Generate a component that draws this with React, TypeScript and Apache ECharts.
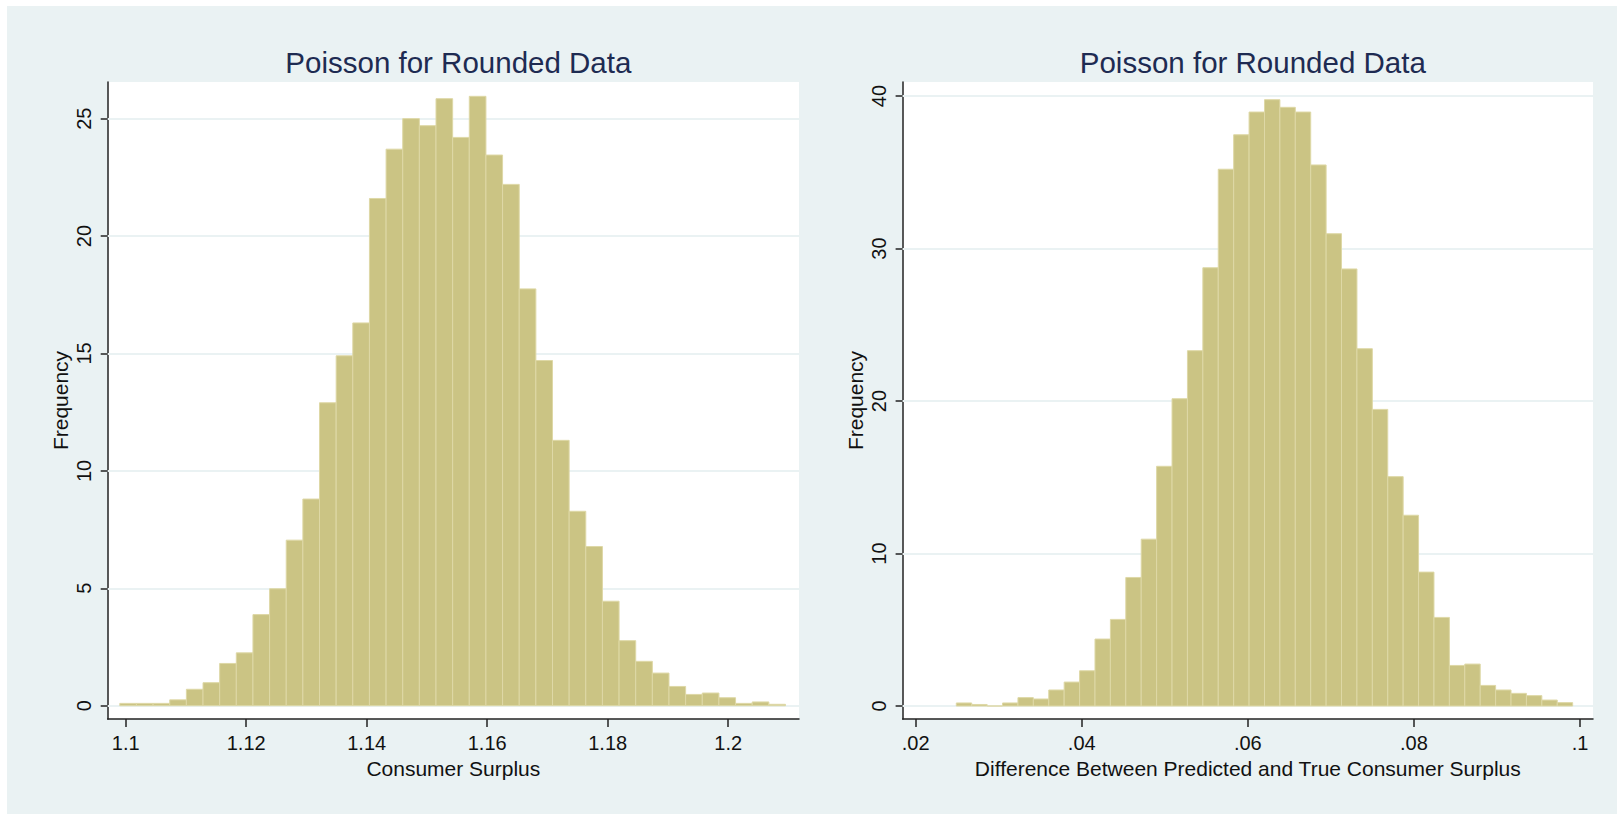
import React, { useEffect, useRef } from 'react';
import * as echarts from 'echarts';

// ---- data ----
const titleText = 'Poisson for Rounded Data';
const yTitle = 'Frequency';
const leftXTitle = 'Consumer Surplus';
const rightXTitle = 'Difference Between Predicted and True Consumer Surplus';

const leftBinStart = 1.09902;
const leftBinWidth = 0.0027622;
const leftHeights = [
  0.1, 0.1, 0.1, 0.25, 0.7, 0.98, 1.8, 2.25, 3.88, 4.98,
  7.05, 8.8, 12.9, 14.9, 16.3, 21.6, 23.7, 25.0, 24.7, 25.85,
  24.2, 25.95, 23.45, 22.2, 17.75, 14.7, 11.3, 8.28, 6.78, 4.45,
  2.77, 1.89, 1.39, 0.82, 0.48, 0.54, 0.34, 0.1, 0.16, 0.06,
];

const rightBinStart = 0.02489;
const rightBinWidth = 0.0018557;
const rightHeights = [
  0.2, 0.1, 0, 0.2, 0.55, 0.46, 1.05, 1.57, 2.31, 4.39,
  5.68, 8.43, 10.94, 15.72, 20.15, 23.3, 28.74, 35.2, 37.46, 38.95,
  39.76, 39.26, 38.95, 35.48, 30.97, 28.66, 23.43, 19.45, 15.04, 12.51,
  8.78, 5.81, 2.66, 2.75, 1.35, 1.05, 0.83, 0.68, 0.39, 0.22,
];

const leftXTicks = [1.1, 1.12, 1.14, 1.16, 1.18, 1.2];
const rightXTicks = [0.02, 0.04, 0.06, 0.08, 0.1];
const leftYTicks = [0, 5, 10, 15, 20, 25];
const rightYTicks = [0, 10, 20, 30, 40];

// axis extents (plot region margins as in the original)
const leftXRange = [1.09701, 1.21175];
const rightXRange = [0.018422, 0.101567];
const leftYRange = [-0.566, 26.56];
const rightYRange = [-0.852, 40.92];

const FONT = '"Liberation Sans", Arial, Helvetica, sans-serif';
const BG = '#EAF2F3';
const BAR = '#CBC484';
const BAR_EDGE = '#DED8A6';
const AXIS = '#222222';

function bins(start: number, width: number, heights: number[]) {
  return heights.map((h, i) => [start + i * width, start + (i + 1) * width, h]);
}

function fmtRight(v: number) {
  return String(v).replace(/^0\./, '.');
}

function renderBar(params: any, api: any) {
  const x0 = api.value(0);
  const x1 = api.value(1);
  const h = api.value(2);
  const p0 = api.coord([x0, 0]);
  const p1 = api.coord([x1, h]);
  return {
    type: 'rect',
    shape: { x: p0[0], y: p1[1], width: p1[0] - p0[0], height: p0[1] - p1[1] },
    style: { fill: BAR, stroke: BAR_EDGE, lineWidth: 1 },
  };
}

function xAxisOpt(gridIndex: number, range: number[], ticks: number[], name: string, fmt: (v: number) => string) {
  return {
    type: 'value',
    gridIndex,
    min: range[0],
    max: range[1],
    splitLine: { show: false },
    axisLine: { show: true, onZero: false, lineStyle: { color: AXIS, width: 1.5 } },
    axisTick: { show: true, length: 8, customValues: ticks, lineStyle: { color: AXIS, width: 1.5 } },
    axisLabel: {
      customValues: ticks,
      formatter: (v: number) => fmt(v),
      fontSize: 20,
      color: '#111',
      fontFamily: FONT,
      margin: 14,
    },
    name,
    nameLocation: 'middle',
    nameGap: 35,
    nameTextStyle: { fontSize: 21, color: '#111', fontFamily: FONT },
  };
}

function yAxisOpt(gridIndex: number, range: number[], ticks: number[]) {
  return {
    type: 'value',
    gridIndex,
    min: range[0],
    max: range[1],
    splitLine: { show: false },
    axisLine: { show: true, onZero: false, lineStyle: { color: AXIS, width: 1.5 } },
    axisTick: { show: true, length: 7, customValues: ticks, lineStyle: { color: AXIS, width: 1.5 } },
    axisLabel: {
      customValues: ticks,
      rotate: 90,
      fontSize: 20,
      color: '#111',
      fontFamily: FONT,
      margin: 14,
    },
    name: yTitle,
    nameLocation: 'middle',
    nameGap: 37,
    nameTextStyle: { fontSize: 21, color: '#111', fontFamily: FONT },
  };
}

function histSeries(idx: number, data: number[][], yTicks: number[]) {
  return {
    type: 'custom',
    xAxisIndex: idx,
    yAxisIndex: idx,
    z: 3,
    renderItem: renderBar,
    encode: { x: [0, 1], y: 2 },
    data,
    silent: true,
    markLine: {
      z: 1,
      silent: true,
      symbol: ['none', 'none'],
      label: { show: false },
      lineStyle: { color: BG, width: 2, type: 'solid' },
      data: yTicks.map((t) => ({ yAxis: t })),
    },
  };
}

export default function App() {
  const ref = useRef<HTMLDivElement>(null);
  useEffect(() => {
    if (!ref.current) return;
    const chart = echarts.init(ref.current, undefined, { renderer: 'svg' });
    const leftCenter = (107.7 + 799) / 2;
    const rightCenter = (902.6 + 1593) / 2;
    const titleStyle = { fontSize: 29.5, fontWeight: 'normal', color: '#1E2B52', fontFamily: FONT };
    chart.setOption({
      animation: false,
      backgroundColor: BG,
      textStyle: { fontFamily: FONT },
      graphic: [
        { type: 'rect', left: 0, top: 0, shape: { width: 1617, height: 6 }, style: { fill: '#ffffff' } },
        { type: 'rect', left: 0, top: 0, shape: { width: 7, height: 814 }, style: { fill: '#ffffff' } },
      ],
      title: [
        { text: titleText, left: leftCenter, top: 42, textAlign: 'center', textStyle: titleStyle },
        { text: titleText, left: rightCenter, top: 42, textAlign: 'center', textStyle: titleStyle },
      ],
      grid: [
        { left: 107.7, right: 1617 - 799, top: 82, bottom: 95, show: true, backgroundColor: '#ffffff', borderWidth: 0 },
        { left: 902.6, right: 1617 - 1593, top: 82, bottom: 95, show: true, backgroundColor: '#ffffff', borderWidth: 0 },
      ],
      xAxis: [
        xAxisOpt(0, leftXRange, leftXTicks, leftXTitle, (v) => String(v)),
        xAxisOpt(1, rightXRange, rightXTicks, rightXTitle, fmtRight),
      ],
      yAxis: [yAxisOpt(0, leftYRange, leftYTicks), yAxisOpt(1, rightYRange, rightYTicks)],
      series: [
        histSeries(0, bins(leftBinStart, leftBinWidth, leftHeights), leftYTicks),
        histSeries(1, bins(rightBinStart, rightBinWidth, rightHeights), rightYTicks),
      ],
    });
    return () => chart.dispose();
  }, []);
  return <div ref={ref} style={{ position: 'fixed', left: 0, top: 0, width: 1617, height: 814 }} />;
}
